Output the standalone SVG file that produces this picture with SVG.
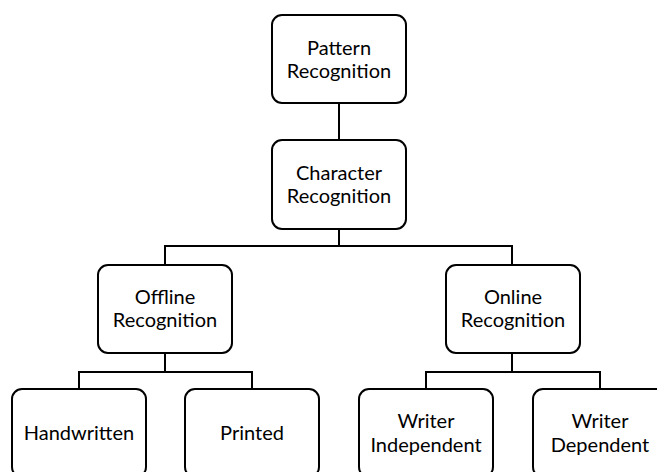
<svg xmlns="http://www.w3.org/2000/svg" width="657" height="472" viewBox="0 0 657 472">
  <style>
    .box { fill: #ffffff; stroke: #000000; stroke-width: 2; }
    .lbl { font-family: Lato, "Open Sans", "Liberation Sans", sans-serif; font-size: 20px; fill: #000000; text-anchor: middle; }
    .wire { fill: none; stroke: #000000; stroke-width: 2; }
  </style>
  <rect width="657" height="472" fill="#ffffff"/>

  <!-- tree connectors -->
  <g id="connectors">
    <path class="wire" d="M339,103 V140"/>
    <path class="wire" d="M339,229 V246 M165,265 V246 H512 V265"/>
    <path class="wire" d="M165,353 V372 M79,389 V372 H252 V389"/>
    <path class="wire" d="M512,353 V372 M426,389 V372 H600 V389"/>
  </g>

  <g id="pattern-recognition">
    <rect class="box" x="272" y="15" width="134" height="88" rx="10"/>
    <text class="lbl" x="339" y="55">Pattern</text>
    <text class="lbl" x="339" y="77.5">Recognition</text>
  </g>

  <g id="character-recognition">
    <rect class="box" x="272" y="140" width="134" height="89" rx="10"/>
    <text class="lbl" x="339" y="180">Character</text>
    <text class="lbl" x="339" y="202.5">Recognition</text>
  </g>

  <g id="offline-recognition">
    <rect class="box" x="98" y="265" width="134" height="88" rx="10"/>
    <text class="lbl" x="165" y="304">Offline</text>
    <text class="lbl" x="165" y="327">Recognition</text>
  </g>

  <g id="online-recognition">
    <rect class="box" x="446" y="265" width="134" height="88" rx="10"/>
    <text class="lbl" x="513" y="304">Online</text>
    <text class="lbl" x="513" y="327">Recognition</text>
  </g>

  <g id="handwritten">
    <rect class="box" x="12" y="389" width="134" height="88" rx="10"/>
    <text class="lbl" x="79" y="440">Handwritten</text>
  </g>

  <g id="printed">
    <rect class="box" x="185" y="389" width="134" height="88" rx="10"/>
    <text class="lbl" x="252" y="440">Printed</text>
  </g>

  <g id="writer-independent">
    <rect class="box" x="359" y="389" width="134" height="88" rx="10"/>
    <text class="lbl" x="426" y="428">Writer</text>
    <text class="lbl" x="426" y="451.5">Independent</text>
  </g>

  <g id="writer-dependent">
    <rect class="box" x="533" y="389" width="134" height="88" rx="10"/>
    <text class="lbl" x="600" y="428">Writer</text>
    <text class="lbl" x="600" y="451.5">Dependent</text>
  </g>
</svg>
